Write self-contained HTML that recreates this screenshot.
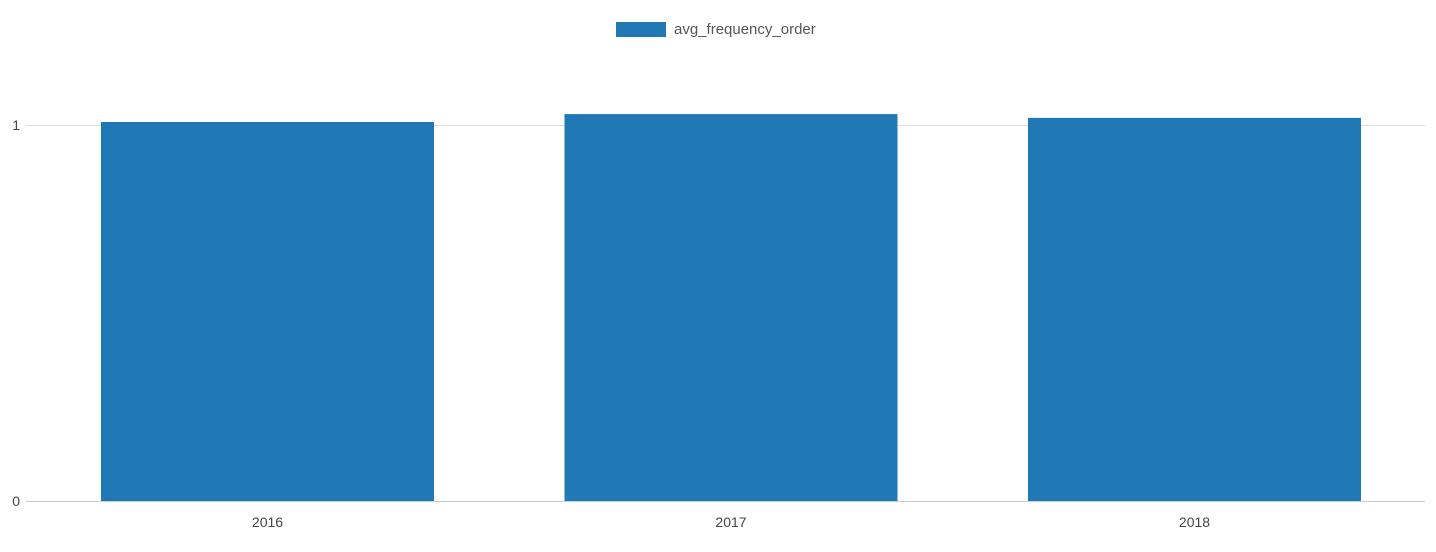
<!DOCTYPE html>
<html><head><meta charset="utf-8"><style>
body{margin:0;background:#fff;font-family:"Liberation Sans",Arial,sans-serif}
svg text{font-family:"Liberation Sans",Arial,sans-serif}
</style></head><body>
<svg id="chart" width="1436" height="547" xmlns="http://www.w3.org/2000/svg">
<g>
<rect x="616" y="22" width="50" height="15" fill="#2078b4"/>
<text x="674" y="34" font-size="15" fill="#555">avg_frequency_order</text>
</g>
<g id="grid"></g><g id="bars"></g><g id="axes"></g>
</svg>
<script>
const categories=["2016","2017","2018"];
const values=[1.008,1.029,1.019];
const yTicks=[0,1];
const x0=35.75,x1=1426.25,y0=501,y1=125;
const band=(x1-x0)/categories.length, barW=333;
function yScale(v){return y0-(y0-y1)*v;}
function xScale(i){return x0+band*i+(band-barW)/2;}
const NS="http://www.w3.org/2000/svg";
const svg=document.getElementById('chart');
function mk(t,a,p){const e=document.createElementNS(NS,t);for(const k in a)e.setAttribute(k,a[k]);p.appendChild(e);return e;}
const grid=document.getElementById('grid'),bars=document.getElementById('bars'),axes=document.getElementById('axes');
yTicks.forEach(t=>{
 const l=mk('line',{x1:26,x2:1425,y1:yScale(t)+0.5,y2:yScale(t)+0.5,stroke:t===0?'#ccc':'#ddd','stroke-width':1},grid);
 
 
 const tx=mk('text',{x:20,y:yScale(t)+5,'text-anchor':'end','font-size':14,fill:'#444'},axes);
 tx.textContent=t;
 
 
});
categories.forEach((c,i)=>{
 const r=mk('rect',{x:xScale(i),y:yScale(values[i]),width:barW,height:y0-yScale(values[i]),fill:'#2078b4'},bars);
 
 
 const tx=mk('text',{x:xScale(i)+barW/2,y:527,'text-anchor':'middle','font-size':14,fill:'#444'},axes);
 tx.textContent=c;
 
 
});
</script>
</body></html>
